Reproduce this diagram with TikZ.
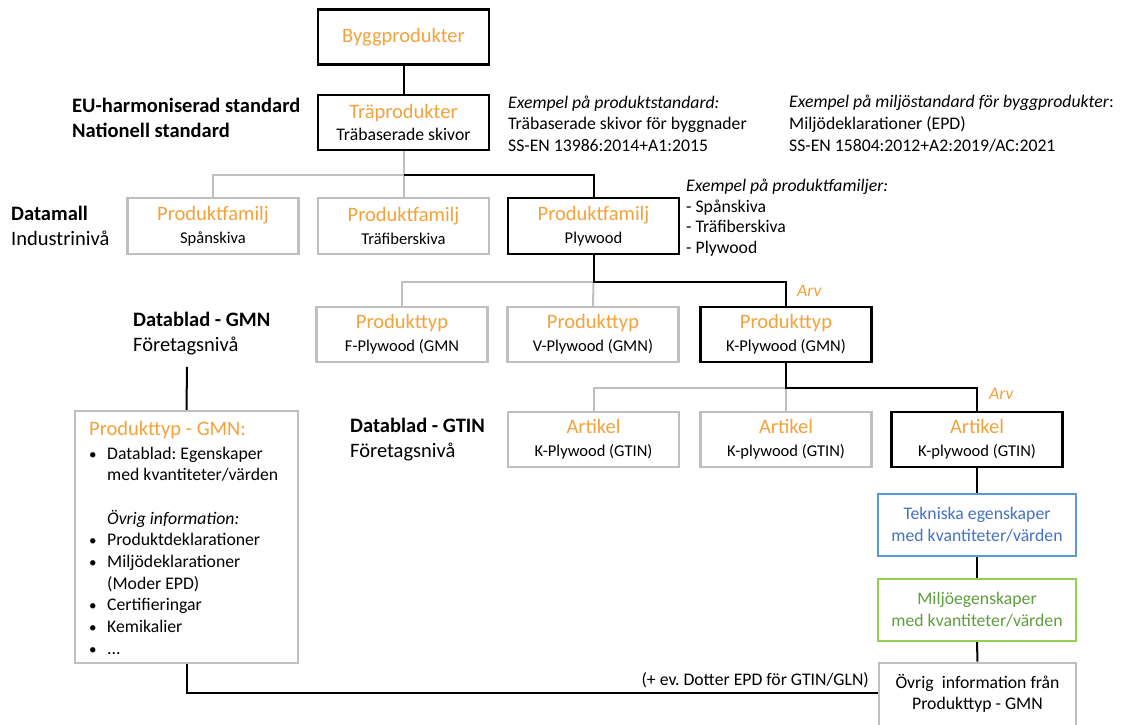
\documentclass[tikz,border=0pt]{standalone}
\usepackage{fontspec}
\setmainfont{Carlito}
\usetikzlibrary{calc}
\frenchspacing

\definecolor{accent}{HTML}{F4A23C}
\definecolor{boxgray}{HTML}{BFBFBF}
\definecolor{techblue}{HTML}{5B9BD5}
\definecolor{techtext}{HTML}{4472C4}
\definecolor{envgreen}{HTML}{92D050}
\definecolor{envtext}{HTML}{5E9E3C}

\newcommand\titlesize{\fontsize{20.5}{24}\selectfont}
\newcommand\subsize{\fontsize{16.5}{23}\selectfont}
\newcommand\bodysize{\fontsize{17.7}{21.7}\selectfont}
\newcommand\labelsize{\fontsize{20.5}{25}\selectfont}
\newcommand\bul{\makebox[18pt][l]{\hspace{0pt}\scalebox{0.85}{•}}}
\newcommand\ind{\hspace*{18pt}}

\tikzset{
  base/.style={rectangle, inner sep=0pt, align=center, fill=white,
    minimum width=171pt, minimum height=55pt, font=\subsize},
  mainbox/.style={base, draw=black, line width=2.8pt},
  sidebox/.style={base, draw=boxgray, line width=2.4pt},
  link/.style={line width=2pt, draw=black},
  sidelink/.style={line width=2pt, draw=boxgray},
  lvl/.style={anchor=west, align=left, inner sep=0pt, font=\labelsize},
  note/.style={anchor=west, align=left, inner sep=0pt, font=\bodysize},
  arv/.style={anchor=west, inner sep=0pt, text=accent, font=\bodysize\itshape},
}

\begin{document}
\begin{tikzpicture}[x=1pt, y=-1pt]
\useasboundingbox (0,0) rectangle (1128,724);
\clip (0,0) rectangle (1128,724);
\fill[white] (0,0) rectangle (1128,724);

% --- hierarchy boxes ---
\node[mainbox] (bygg) at (403.5,37) {\titlesize\color{accent}Byggprodukter};
\node[mainbox] (trae) at (403.5,122.5)
  {\titlesize\color{accent}Träprodukter\\[-1.5pt]\bodysize Träbaserade skivor};

\node[sidebox, minimum height=56pt] (pf1) at (213,226)
  {\titlesize\color{accent}Produktfamilj\\\subsize Spånskiva};
\node[sidebox, minimum height=56pt] (pf2) at (403.5,226)
  {\titlesize\color{accent}Produktfamilj\\\subsize Träfiberskiva};
\node[mainbox, minimum height=56pt] (pf3) at (593.5,226)
  {\titlesize\color{accent}Produktfamilj\\\subsize Plywood};

\node[sidebox] (pt1) at (402,334.5)
  {\titlesize\color{accent}Produkttyp\\\subsize F-Plywood (GMN};
\node[sidebox] (pt2) at (593,334.5)
  {\titlesize\color{accent}Produkttyp\\\subsize V-Plywood (GMN)};
\node[mainbox] (pt3) at (786,334.5)
  {\titlesize\color{accent}Produkttyp\\\subsize K-Plywood (GMN)};

\node[sidebox] (a1) at (593.5,439.5)
  {\titlesize\color{accent}Artikel\\\subsize K-Plywood (GTIN)};
\node[sidebox] (a2) at (786,439.5)
  {\titlesize\color{accent}Artikel\\\subsize K-plywood (GTIN)};
\node[mainbox] (a3) at (977,439.5)
  {\titlesize\color{accent}Artikel\\\subsize K-plywood (GTIN)};

\node[base, draw=techblue, line width=2.2pt, minimum width=198pt, minimum height=62pt,
  text=techtext, font=\bodysize] (tek) at (977,525)
  {Tekniska egenskaper\\med kvantiteter/värden};
\node[base, draw=envgreen, line width=2.2pt, minimum width=198pt, minimum height=62pt,
  text=envtext, font=\bodysize] (milj) at (977,610)
  {Miljöegenskaper\\med kvantiteter/värden};
\node[base, draw=boxgray, line width=2.6pt, minimum width=197pt, minimum height=70pt,
  font=\bodysize] (ovr) at (977.5,698)
  {Övrig\ \ information från\\Produkttyp - GMN\rule[-12pt]{0pt}{12pt}};

% --- left info box ---
\node[rectangle, draw=boxgray, line width=2.4pt, fill=white, minimum width=223pt,
  minimum height=252pt, inner sep=0pt] (gmn) at (186.5,537) {};
\node[anchor=west, align=left, inner sep=0pt, font=\bodysize] (gmntext) at (89,538)
  {{\titlesize\color{accent}Produkttyp - GMN:}\\[1.5pt]
   \bul Datablad: Egenskaper\\
   \ind med kvantiteter/värden\\
   \mbox{}\\
   \ind\textit{Övrig information:}\\
   \bul Produktdeklarationer\\
   \bul Miljödeklarationer\\
   \ind (Moder EPD)\\
   \bul Certifieringar\\
   \bul Kemikalier\\
   \bul ...};

% --- level labels ---
\node[lvl] (lv1) at (72,117.5) {\textbf{EU-harmoniserad standard}\\\textbf{Nationell standard}};
\node[lvl] (lv2) at (11,225.5) {\textbf{Datamall}\\Industrinivå};
\node[lvl] (lv3) at (133,334) {\textbf{Datablad - GMN}\\Företagsnivå};
\node[lvl] (lv4) at (350,439.5) {\textbf{Datablad - GTIN}\\Företagsnivå};

% --- example notes ---
\node[note] (ex1) at (508,123.5)
  {\textit{Exempel på produktstandard:}\\Träbaserade skivor för byggnader\\SS-EN 13986:2014+A1:2015};
\node[note] (ex2) at (789,123.5)
  {\textit{Exempel på miljöstandard för byggprodukter}:\\Miljödeklarationer (EPD)\\SS-EN 15804:2012+A2:2019/AC:2021};
\node[note, font=\fontsize{17.7}{20.7}\selectfont] (ex3) at (686,217.5)
  {\textit{Exempel på produktfamiljer:}\\- Spånskiva\\- Träfiberskiva\\- Plywood};

\node[arv] (arv1) at (797,291) {Arv};
\node[arv] (arv2) at (989,394) {Arv};

\node[anchor=east, inner sep=0pt, font=\bodysize] (dotter) at (869,680)
  {(+ ev. Dotter EPD för GTIN/GLN)};

% --- connectors ---
\coordinate (bus1) at ($(trae.south)+(0,24)$);
\coordinate (bus2) at ($(pf3.south)+(0,27)$);
\coordinate (bus3) at ($(pt3.south)+(0,25)$);
\coordinate (gtop) at ($(gmn.north)+(0.5,-43)$);

\draw[sidelink] (trae.south) -- (pf2.north);
\draw[sidelink] (bus1) -| (pf1.north);
\draw[sidelink] (bus2) -| (pt1.north);
\draw[sidelink] (bus2) -- (pt2.north);
\draw[sidelink] (bus3) -| (a1.north);
\draw[sidelink] (bus3) -- (a2.north);

\draw[link] (bygg.south) -- (trae.north);
\draw[link] (bus1) -| (pf3.north);
\draw[link] (pf3.south) -- (bus2) -| (pt3.north);
\draw[link] (pt3.south) -- (bus3) -| (a3.north);
\draw[link] (a3.south) -- (tek.north);
\draw[link] (tek.south) -- (milj.north);
\draw[link] (milj.south) -- (ovr.north);
\draw[link] (gtop) -- (gmn.north);
\draw[link] (gmn.south) |- ([yshift=5pt]ovr.west);
\end{tikzpicture}
\end{document}
